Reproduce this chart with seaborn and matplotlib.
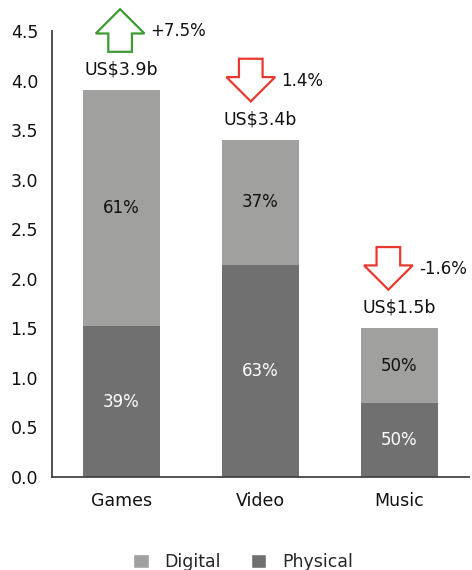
import matplotlib
matplotlib.use("Agg")
import matplotlib.pyplot as plt
from matplotlib.patches import Polygon, Patch
import seaborn as sns
import pandas as pd

# Revenue by media category (US$ billions) and digital/physical split
categories = ["Games", "Video", "Music"]
totals = [3.9, 3.4, 1.5]
digital_pct = [61, 37, 50]
physical_pct = [39, 63, 50]
growth_labels = ["+7.5%", "1.4%", "-1.6%"]
growth_up = [True, False, False]
y_ticks = [0.0, 0.5, 1.0, 1.5, 2.0, 2.5, 3.0, 3.5, 4.0, 4.5]

DIGITAL = "#a0a09f"
PHYSICAL = "#707070"
UP = "#3f9a35"
DOWN = "#e8392f"

physical_vals = [t * p / 100 for t, p in zip(totals, physical_pct)]
df = pd.DataFrame({"category": categories, "total": totals, "physical": physical_vals})

sns.set_style("white")
plt.rcParams["font.family"] = ["DejaVu Sans"]

fig = plt.figure(figsize=(4.72, 5.70), dpi=100)
ax = fig.add_axes([52 / 472, 1 - 477 / 570, 417 / 472, 446 / 570])

sns.barplot(data=df, x="category", y="total", color=DIGITAL, width=0.55,
            saturation=1, linewidth=0, ax=ax)
sns.barplot(data=df, x="category", y="physical", color=PHYSICAL, width=0.55,
            saturation=1, linewidth=0, ax=ax)

ax.set_xlim(-0.5, 2.5)
ax.set_ylim(0, 4.5)
ax.set_yticks(y_ticks)
ax.set_yticklabels([f"{v:.1f}" for v in y_ticks])
ax.set_xlabel("")
ax.set_ylabel("")
ax.tick_params(axis="both", length=0, labelsize=12.5, colors="#111111")
ax.tick_params(axis="y", pad=10)
ax.tick_params(axis="x", pad=11)
for side in ("top", "right"):
    ax.spines[side].set_visible(False)
for side in ("left", "bottom"):
    ax.spines[side].set_color("#444444")
    ax.spines[side].set_linewidth(1.3)

# percentage labels inside the stacked segments
for i, (tot, phys) in enumerate(zip(totals, physical_vals)):
    ax.text(i, (phys + tot) / 2, f"{digital_pct[i]}%", ha="center", va="center",
            fontsize=12, color="#111111")
    ax.text(i, phys / 2, f"{physical_pct[i]}%", ha="center", va="center",
            fontsize=12, color="white")
    ax.text(i, tot + 0.21, f"US${tot}b", ha="center", va="center",
            fontsize=12.5, color="#111111")

# growth arrows above each bar
arrow_dx = [-0.01, -0.07, -0.08]
half_w, shaft_w, head_len, arrow_len = 0.175, 0.085, 0.245, 0.43
for i, tot in enumerate(totals):
    cx = i + arrow_dx[i]
    base = tot + 0.39
    if growth_up[i]:
        y0, y1 = base, base + arrow_len
        yh = y1 - head_len
        pts = [(cx - shaft_w, y0), (cx + shaft_w, y0), (cx + shaft_w, yh),
               (cx + half_w, yh), (cx, y1), (cx - half_w, yh), (cx - shaft_w, yh)]
        col = UP
    else:
        tip, top = base, base + arrow_len
        yh = tip + head_len
        pts = [(cx - shaft_w, top), (cx + shaft_w, top), (cx + shaft_w, yh),
               (cx + half_w, yh), (cx, tip), (cx - half_w, yh), (cx - shaft_w, yh)]
        col = DOWN
    ax.add_patch(Polygon(pts, closed=True, facecolor="white", edgecolor=col,
                         linewidth=1.6, clip_on=False, zorder=5))
    ax.text(cx + 0.22, tot + 0.595, growth_labels[i], ha="left", va="center",
            fontsize=12, color="#111111", clip_on=False)

handles = [Patch(facecolor=DIGITAL, label="Digital"),
           Patch(facecolor=PHYSICAL, label="Physical")]
fig.legend(handles=handles, loc="center", bbox_to_anchor=(0.515, 1 - 562 / 570),
           ncol=2, frameon=False, fontsize=12.5, handlelength=0.9, handleheight=0.9,
           columnspacing=1.7, handletextpad=0.9)

fig.savefig("out.png", dpi=100)
